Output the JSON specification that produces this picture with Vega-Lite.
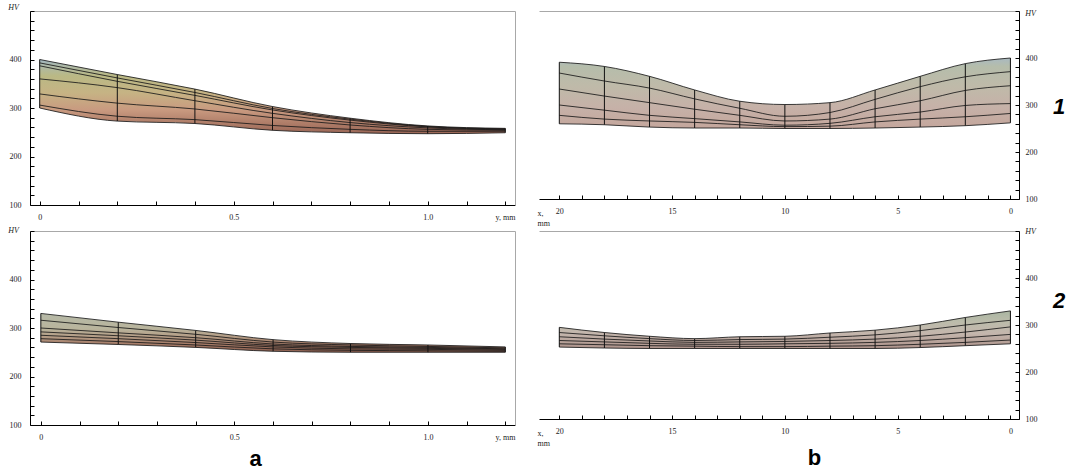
{
  "$schema": "https://vega.github.io/schema/vega-lite/v6.json",
  "padding": {"left": 7, "top": 3, "right": 5, "bottom": 2},
  "background": "white",
  "datasets": {
    "a1": [
      {"X": 0, "L1": 400, "L2": 393, "L3": 387, "L4": 360, "L5": 329, "L6": 306, "L7": 300},
      {"X": 0.2, "L1": 369, "L2": 362, "L3": 355, "L4": 342, "L5": 310, "L6": 283, "L7": 273},
      {"X": 0.4, "L1": 339, "L2": 332, "L3": 326, "L4": 315, "L5": 298, "L6": 276, "L7": 268},
      {"X": 0.6, "L1": 303, "L2": 299, "L3": 296, "L4": 289, "L5": 280, "L6": 264, "L7": 254},
      {"X": 0.8, "L1": 279, "L2": 277, "L3": 275, "L4": 270, "L5": 265, "L6": 256, "L7": 249},
      {"X": 1.0, "L1": 263, "L2": 262, "L3": 261, "L4": 259, "L5": 256, "L6": 252, "L7": 247},
      {"X": 1.2, "L1": 258, "L2": 257, "L3": 256, "L4": 255, "L5": 254, "L6": 252, "L7": 249}
    ],
    "a2": [
      {"X": 0, "L1": 330, "L2": 316, "L3": 300, "L4": 292, "L5": 285, "L6": 278, "L7": 271},
      {"X": 0.2, "L1": 312, "L2": 301, "L3": 290, "L4": 284, "L5": 278, "L6": 272, "L7": 266},
      {"X": 0.4, "L1": 295, "L2": 287, "L3": 280, "L4": 275, "L5": 270, "L6": 265, "L7": 260},
      {"X": 0.6, "L1": 276, "L2": 271, "L3": 267, "L4": 264, "L5": 261, "L6": 257, "L7": 252},
      {"X": 0.8, "L1": 268, "L2": 265, "L3": 262, "L4": 260, "L5": 257, "L6": 254, "L7": 250},
      {"X": 1.0, "L1": 265, "L2": 262, "L3": 260, "L4": 258, "L5": 256, "L6": 253, "L7": 250},
      {"X": 1.2, "L1": 261, "L2": 259, "L3": 257, "L4": 256, "L5": 254, "L6": 252, "L7": 250}
    ],
    "b1": [
      {"X": 20, "L1": 391, "L2": 368, "L3": 334, "L4": 300, "L5": 278, "L6": 260},
      {"X": 18, "L1": 382, "L2": 351, "L3": 319, "L4": 289, "L5": 270, "L6": 258},
      {"X": 16, "L1": 361, "L2": 336, "L3": 305, "L4": 278, "L5": 266, "L6": 253},
      {"X": 14, "L1": 332, "L2": 313, "L3": 291, "L4": 271, "L5": 263, "L6": 251},
      {"X": 12, "L1": 308, "L2": 293, "L3": 278, "L4": 264, "L5": 258, "L6": 251},
      {"X": 10, "L1": 301, "L2": 276, "L3": 266, "L4": 257, "L5": 254, "L6": 250},
      {"X": 8, "L1": 305, "L2": 284, "L3": 270, "L4": 261, "L5": 255, "L6": 250},
      {"X": 6, "L1": 332, "L2": 312, "L3": 292, "L4": 275, "L5": 264, "L6": 251},
      {"X": 4, "L1": 361, "L2": 339, "L3": 309, "L4": 285, "L5": 270, "L6": 253},
      {"X": 2, "L1": 388, "L2": 360, "L3": 331, "L4": 299, "L5": 275, "L6": 256},
      {"X": 0, "L1": 400, "L2": 371, "L3": 341, "L4": 303, "L5": 282, "L6": 262}
    ],
    "b2": [
      {"X": 20, "L1": 295, "L2": 284, "L3": 275, "L4": 267, "L5": 260, "L6": 253},
      {"X": 18, "L1": 284, "L2": 277, "L3": 270, "L4": 264, "L5": 258, "L6": 251},
      {"X": 16, "L1": 276, "L2": 271, "L3": 266, "L4": 261, "L5": 256, "L6": 250},
      {"X": 14, "L1": 271, "L2": 267, "L3": 263, "L4": 259, "L5": 255, "L6": 250},
      {"X": 12, "L1": 275, "L2": 269, "L3": 264, "L4": 259, "L5": 254, "L6": 250},
      {"X": 10, "L1": 276, "L2": 270, "L3": 265, "L4": 260, "L5": 254, "L6": 250},
      {"X": 8, "L1": 283, "L2": 274, "L3": 267, "L4": 261, "L5": 255, "L6": 250},
      {"X": 6, "L1": 289, "L2": 279, "L3": 270, "L4": 263, "L5": 256, "L6": 250},
      {"X": 4, "L1": 300, "L2": 288, "L3": 276, "L4": 267, "L5": 259, "L6": 252},
      {"X": 2, "L1": 316, "L2": 300, "L3": 285, "L4": 273, "L5": 263, "L6": 256},
      {"X": 0, "L1": 330, "L2": 310, "L3": 296, "L4": 280, "L5": 268, "L6": 260}
    ]
  },
  "config": {
    "view": {"stroke": null},
    "axis": {
      "grid": false,
      "labelFont": "Liberation Serif",
      "labelFontSize": 8,
      "labelColor": "#222",
      "titleFont": "Liberation Serif",
      "titleFontSize": 8,
      "titleFontWeight": "normal",
      "titleFontStyle": "italic",
      "titleColor": "#222",
      "domainColor": "#000",
      "domainWidth": 1,
      "tickColor": "#000",
      "tickSize": -4,
      "labelOverlap": false,
      "labelFlush": false
    },
    "title": {"font": "Liberation Sans", "fontWeight": "bold", "fontSize": 22, "color": "#000"}
  },
  "bounds": "flush",
  "columns": 2,
  "spacing": {"row": 26, "column": 24},
  "concat": [
    {
      "width": 485, "height": 194,
      "data": {"name": "a1"},
      "resolve": {"axis": {"x": "independent", "y": "independent"}},
      "layer": [
        {
          "mark": {"type": "area", "interpolate": "monotone", "fill": {"gradient": "linear", "x1": 0, "y1": 0, "x2": 0, "y2": 1, "stops": [
            {"offset": 0, "color": "#9fb5c2"}, {"offset": 0.08, "color": "#adb9a9"}, {"offset": 0.22, "color": "#bab985"},
            {"offset": 0.45, "color": "#c6b384"}, {"offset": 0.68, "color": "#c99a80"}, {"offset": 1, "color": "#9a6656"}]}},
          "encoding": {
            "x": {"field": "X", "type": "quantitative", "scale": {"domain": [-0.025, 1.225], "nice": false, "zero": false},
              "axis": {"orient": "bottom", "values": [0, 0.1, 0.2, 0.3, 0.4, 0.5, 0.6, 0.7, 0.8, 0.9, 1.0, 1.1, 1.2],
                "labelExpr": "datum.value == 0 ? '0' : (abs(datum.value - 0.5) < 0.001 || abs(datum.value - 1) < 0.001) ? format(datum.value, '.1f') : ''",
                "labelPadding": 12, "title": "y, mm", "titleX": 485, "titleY": 12, "titleAlign": "right", "titleBaseline": "middle", "titleFontStyle": "normal"}},
            "y": {"field": "L1", "type": "quantitative", "scale": {"domain": [100, 500], "nice": false, "zero": false},
              "axis": {"orient": "left", "values": [100, 120, 140, 160, 180, 200, 220, 240, 260, 280, 300, 320, 340, 360, 380, 400, 420, 440, 460, 480, 500],
                "labelExpr": "datum.value % 100 == 0 && datum.value < 500 ? datum.label : ''",
                "labelPadding": 13, "title": "HV", "titleAngle": 0, "titleX": -17, "titleY": -4, "titleAlign": "center", "titleBaseline": "middle"}},
            "y2": {"field": "L7"}
          }
        },
        {
          "transform": [{"fold": ["L1", "L2", "L3", "L4", "L5", "L6", "L7"], "as": ["k", "hv"]}],
          "mark": {"type": "line", "interpolate": "monotone", "color": "#1a1a1a", "strokeWidth": 1, "opacity": 0.85},
          "encoding": {
            "x": {"field": "X", "type": "quantitative", "axis": {"orient": "top", "domainColor": "#a8a8a8", "ticks": false, "labels": false, "title": null}},
            "y": {"field": "hv", "type": "quantitative", "axis": {"orient": "right", "domainColor": "#a8a8a8", "ticks": false, "labels": false, "title": null}},
            "detail": {"field": "k"}
          }
        },
        {
          "mark": {"type": "rule", "color": "#111", "strokeWidth": 1},
          "encoding": {
            "x": {"field": "X", "type": "quantitative", "axis": null},
            "y": {"field": "L1", "type": "quantitative", "axis": null},
            "y2": {"field": "L7"}
          }
        }
      ]
    },
    {
      "width": 480, "height": 188,
      "data": {"name": "b1"},
      "title": {"text": "1", "orient": "right", "anchor": "middle", "angle": 0, "fontStyle": "italic", "offset": 10, "dy": -8},
      "resolve": {"axis": {"x": "independent", "y": "independent"}},
      "layer": [
        {
          "mark": {"type": "area", "interpolate": "monotone", "fill": {"gradient": "linear", "x1": 0, "y1": 0, "x2": 0, "y2": 1, "stops": [
            {"offset": 0, "color": "#a9b9c1"}, {"offset": 0.12, "color": "#b5bdab"}, {"offset": 0.4, "color": "#bfbaa9"},
            {"offset": 0.7, "color": "#c6b1a8"}, {"offset": 1, "color": "#c4a69c"}]}},
          "encoding": {
            "x": {"field": "X", "type": "quantitative", "scale": {"domain": [-0.38, 20.9], "nice": false, "zero": false, "reverse": true},
              "axis": {"orient": "bottom", "values": [0, 1, 2, 3, 4, 5, 6, 7, 8, 9, 10, 11, 12, 13, 14, 15, 16, 17, 18, 19, 20],
                "labelExpr": "datum.value % 5 == 0 ? datum.label : ''",
                "labelPadding": 12, "title": ["x,", "mm"], "titleX": -2, "titleY": 10, "titleAlign": "left", "titleBaseline": "top", "titleLineHeight": 10, "titleFontStyle": "normal"}},
            "y": {"field": "L1", "type": "quantitative", "scale": {"domain": [100, 500], "nice": false, "zero": false},
              "axis": {"orient": "right", "values": [100, 120, 140, 160, 180, 200, 220, 240, 260, 280, 300, 320, 340, 360, 380, 400, 420, 440, 460, 480, 500],
                "labelExpr": "datum.value % 100 == 0 && datum.value < 500 ? datum.label : ''",
                "labelPadding": 10, "title": "HV", "titleAngle": 0, "titleX": 11, "titleY": 2, "titleAlign": "center", "titleBaseline": "middle"}},
            "y2": {"field": "L6"}
          }
        },
        {
          "transform": [{"fold": ["L1", "L2", "L3", "L4", "L5", "L6"], "as": ["k", "hv"]}],
          "mark": {"type": "line", "interpolate": "monotone", "color": "#1a1a1a", "strokeWidth": 1, "opacity": 0.85},
          "encoding": {
            "x": {"field": "X", "type": "quantitative", "axis": {"orient": "top", "domainColor": "#a8a8a8", "ticks": false, "labels": false, "title": null}},
            "y": {"field": "hv", "type": "quantitative", "axis": null},
            "detail": {"field": "k"}
          }
        },
        {
          "mark": {"type": "rule", "color": "#111", "strokeWidth": 1},
          "encoding": {
            "x": {"field": "X", "type": "quantitative", "axis": null},
            "y": {"field": "L1", "type": "quantitative", "axis": null},
            "y2": {"field": "L6"}
          }
        }
      ]
    },
    {
      "width": 485, "height": 194,
      "data": {"name": "a2"},
      "title": {"text": "a", "orient": "bottom", "anchor": "middle", "dx": -17, "offset": 8},
      "resolve": {"axis": {"x": "independent", "y": "independent"}},
      "layer": [
        {
          "mark": {"type": "area", "interpolate": "monotone", "fill": {"gradient": "linear", "x1": 0, "y1": 0, "x2": 0, "y2": 1, "stops": [
            {"offset": 0, "color": "#b6baa8"}, {"offset": 0.4, "color": "#b9b49c"}, {"offset": 0.6, "color": "#b49c85"},
            {"offset": 0.8, "color": "#a57a66"}, {"offset": 1, "color": "#8a5d4e"}]}},
          "encoding": {
            "x": {"field": "X", "type": "quantitative", "scale": {"domain": [-0.028, 1.225], "nice": false, "zero": false},
              "axis": {"orient": "bottom", "values": [0, 0.1, 0.2, 0.3, 0.4, 0.5, 0.6, 0.7, 0.8, 0.9, 1.0, 1.1, 1.2],
                "labelExpr": "datum.value == 0 ? '0' : (abs(datum.value - 0.5) < 0.001 || abs(datum.value - 1) < 0.001) ? format(datum.value, '.1f') : ''",
                "labelPadding": 12, "title": "y, mm", "titleX": 485, "titleY": 12, "titleAlign": "right", "titleBaseline": "middle", "titleFontStyle": "normal"}},
            "y": {"field": "L1", "type": "quantitative", "scale": {"domain": [100, 500], "nice": false, "zero": false},
              "axis": {"orient": "left", "values": [100, 120, 140, 160, 180, 200, 220, 240, 260, 280, 300, 320, 340, 360, 380, 400, 420, 440, 460, 480, 500],
                "labelExpr": "datum.value % 100 == 0 && datum.value < 500 ? datum.label : ''",
                "labelPadding": 13, "title": "HV", "titleAngle": 0, "titleX": -17, "titleY": -1, "titleAlign": "center", "titleBaseline": "middle"}},
            "y2": {"field": "L7"}
          }
        },
        {
          "transform": [{"fold": ["L1", "L2", "L3", "L4", "L5", "L6", "L7"], "as": ["k", "hv"]}],
          "mark": {"type": "line", "interpolate": "monotone", "color": "#1a1a1a", "strokeWidth": 1, "opacity": 0.85},
          "encoding": {
            "x": {"field": "X", "type": "quantitative", "axis": {"orient": "top", "domainColor": "#a8a8a8", "ticks": false, "labels": false, "title": null}},
            "y": {"field": "hv", "type": "quantitative", "axis": {"orient": "right", "domainColor": "#a8a8a8", "ticks": false, "labels": false, "title": null}},
            "detail": {"field": "k"}
          }
        },
        {
          "mark": {"type": "rule", "color": "#111", "strokeWidth": 1},
          "encoding": {
            "x": {"field": "X", "type": "quantitative", "axis": null},
            "y": {"field": "L1", "type": "quantitative", "axis": null},
            "y2": {"field": "L7"}
          }
        }
      ]
    },
    {
      "width": 480, "height": 188,
      "data": {"name": "b2"},
      "title": {"text": "2", "orient": "right", "anchor": "middle", "angle": 0, "fontStyle": "italic", "offset": 10, "dy": -34},
      "resolve": {"axis": {"x": "independent", "y": "independent"}},
      "layer": [
        {
          "mark": {"type": "area", "interpolate": "monotone", "fill": {"gradient": "linear", "x1": 0, "y1": 0, "x2": 0, "y2": 1, "stops": [
            {"offset": 0, "color": "#aab6a2"}, {"offset": 0.3, "color": "#bcbcab"}, {"offset": 0.6, "color": "#c4b6ad"},
            {"offset": 1, "color": "#ad928a"}]}},
          "encoding": {
            "x": {"field": "X", "type": "quantitative", "scale": {"domain": [-0.38, 20.9], "nice": false, "zero": false, "reverse": true},
              "axis": {"orient": "bottom", "values": [0, 1, 2, 3, 4, 5, 6, 7, 8, 9, 10, 11, 12, 13, 14, 15, 16, 17, 18, 19, 20],
                "labelExpr": "datum.value % 5 == 0 ? datum.label : ''",
                "labelPadding": 12, "title": ["x,", "mm"], "titleX": -2, "titleY": 10, "titleAlign": "left", "titleBaseline": "top", "titleLineHeight": 10, "titleFontStyle": "normal"}},
            "y": {"field": "L1", "type": "quantitative", "scale": {"domain": [100, 500], "nice": false, "zero": false},
              "axis": {"orient": "right", "values": [100, 120, 140, 160, 180, 200, 220, 240, 260, 280, 300, 320, 340, 360, 380, 400, 420, 440, 460, 480, 500],
                "labelExpr": "datum.value % 100 == 0 && datum.value < 500 ? datum.label : ''",
                "labelPadding": 10, "title": "HV", "titleAngle": 0, "titleX": 11, "titleY": 0, "titleAlign": "center", "titleBaseline": "middle"}},
            "y2": {"field": "L6"}
          }
        },
        {
          "transform": [{"fold": ["L1", "L2", "L3", "L4", "L5", "L6"], "as": ["k", "hv"]}],
          "mark": {"type": "line", "interpolate": "monotone", "color": "#1a1a1a", "strokeWidth": 1, "opacity": 0.85},
          "encoding": {
            "x": {"field": "X", "type": "quantitative", "axis": {"orient": "top", "domainColor": "#a8a8a8", "ticks": false, "labels": false, "title": null}},
            "y": {"field": "hv", "type": "quantitative", "axis": null},
            "detail": {"field": "k"}
          }
        },
        {
          "mark": {"type": "rule", "color": "#111", "strokeWidth": 1},
          "encoding": {
            "x": {"field": "X", "type": "quantitative", "axis": {"orient": "bottom", "domain": false, "ticks": false, "labels": false, "title": "b",
              "titleFont": "Liberation Sans", "titleFontSize": 22, "titleFontWeight": "bold", "titleFontStyle": "normal", "titleColor": "#000",
              "titleX": 275, "titleY": 38, "titleAlign": "center", "titleBaseline": "middle"}},
            "y": {"field": "L1", "type": "quantitative", "axis": null},
            "y2": {"field": "L6"}
          }
        }
      ]
    }
  ]
}
